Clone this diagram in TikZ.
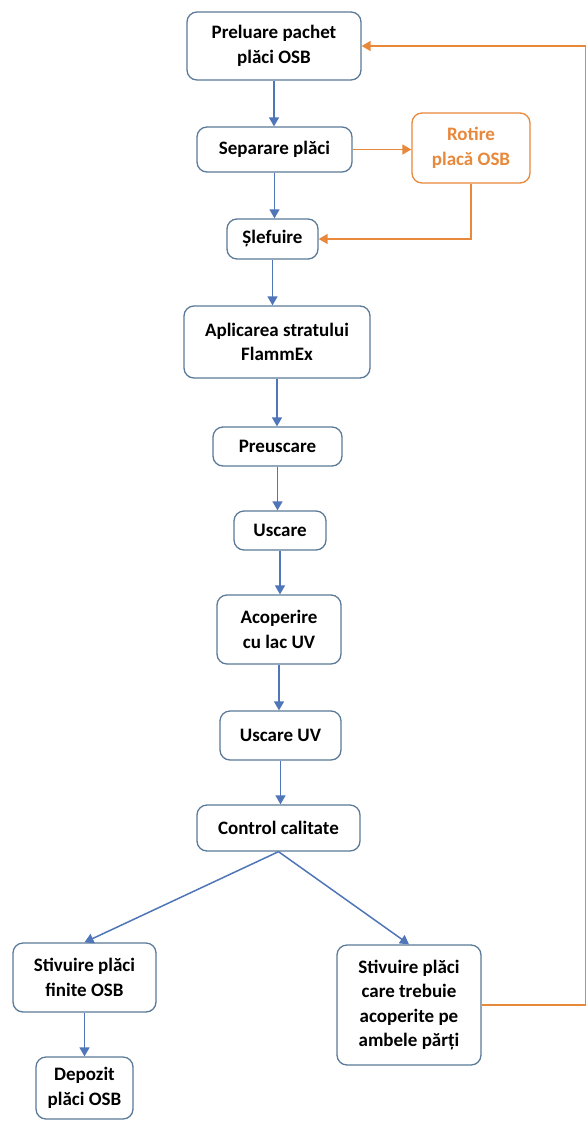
\documentclass[tikz,border=0pt]{standalone}
\usepackage{fontspec}
\setmainfont{Carlito}
\usetikzlibrary{arrows.meta}
\definecolor{boxline}{HTML}{5B7A99}
\definecolor{flowblue}{HTML}{4F76B8}
\definecolor{flowor}{HTML}{E8883A}
\tikzset{
  stepbox/.style={draw=boxline, line width=1.3pt, rounded corners=10pt, fill=white,
    align=center, font=\bfseries\fontsize{19}{24.5}\selectfont, inner sep=0pt},
  orbox/.style={stepbox, draw=flowor, text=flowor},
  blu/.style={draw=flowblue, line width=1.5pt, -{Triangle[width=10pt,length=9pt]}},
  ora/.style={draw=flowor, line width=1.5pt, -{Triangle[width=10pt,length=9pt]}},
  oraline/.style={draw=flowor, line width=1.5pt}
}
\begin{document}
\begin{tikzpicture}[x=1pt,y=-1pt]
\useasboundingbox[fill=white] (0,0) rectangle (587,1122);

\node[stepbox, minimum width=174pt, minimum height=68pt] (pre) at (274,46) {Preluare pachet\\plăci OSB};
\node[stepbox, minimum width=155pt, minimum height=45pt] (sep) at (274.5,149.5) {Separare plăci};
\node[orbox, minimum width=118pt, minimum height=70pt] (rot) at (471,148) {Rotire\\placă OSB};
\node[stepbox, minimum width=91pt, minimum height=40pt] (sle) at (272.5,239) {Șlefuire};
\node[stepbox, minimum width=186pt, minimum height=72pt] (apl) at (277,342) {Aplicarea stratului\\FlammEx};
\node[stepbox, minimum width=129pt, minimum height=39pt] (preu) at (277.5,446.5) {Preuscare};
\node[stepbox, minimum width=92pt, minimum height=39pt] (usc) at (280,530.5) {Uscare};
\node[stepbox, minimum width=124pt, minimum height=69pt] (aco) at (279,629.5) {Acoperire\\cu lac UV};
\node[stepbox, minimum width=121pt, minimum height=49pt] (uuv) at (280.5,735.5) {Uscare UV};
\node[stepbox, minimum width=163pt, minimum height=46pt] (ctl) at (278.5,828) {Control calitate};
\node[stepbox, minimum width=143pt, minimum height=69pt] (sfin) at (84.5,977.5) {Stivuire plăci\\finite OSB};
\node[stepbox, minimum width=97pt, minimum height=62pt] (dep) at (84.5,1088) {Depozit\\plăci OSB};
\node[stepbox, minimum width=144pt, minimum height=120pt] (scar) at (409,1005) {Stivuire plăci\\care trebuie\\acoperite pe\\ambele părți};

\draw[blu] (pre.south) -- (pre.south |- sep.north);
\draw[blu] (sep.south) -- (sep.south |- sle.north);
\draw[blu] (sle.south) -- (sle.south |- apl.north);
\draw[blu] (apl.south) -- (apl.south |- preu.north);
\draw[blu] (preu.south) -- (preu.south |- usc.north);
\draw[blu] (usc.south) -- (usc.south |- aco.north);
\draw[blu] (aco.south) -- (aco.south |- uuv.north);
\draw[blu] (uuv.south) -- (uuv.south |- ctl.north);
\draw[blu] (ctl.south) -- (sfin.north);
\draw[blu] (ctl.south) -- (scar.north);
\draw[blu] (sfin.south) -- (sfin.south |- dep.north);

\draw[ora] (sep.east) -- (rot.west |- sep.east);
\draw[ora] (rot.south) |- (sle.east);

\coordinate (c1) at (585.5,1005);
\coordinate (c2) at (585.5,46);
\draw[oraline] (scar.east) -- (c1) -- (c2);
\draw[ora] (c2) -- (pre.east);
\end{tikzpicture}
\end{document}
